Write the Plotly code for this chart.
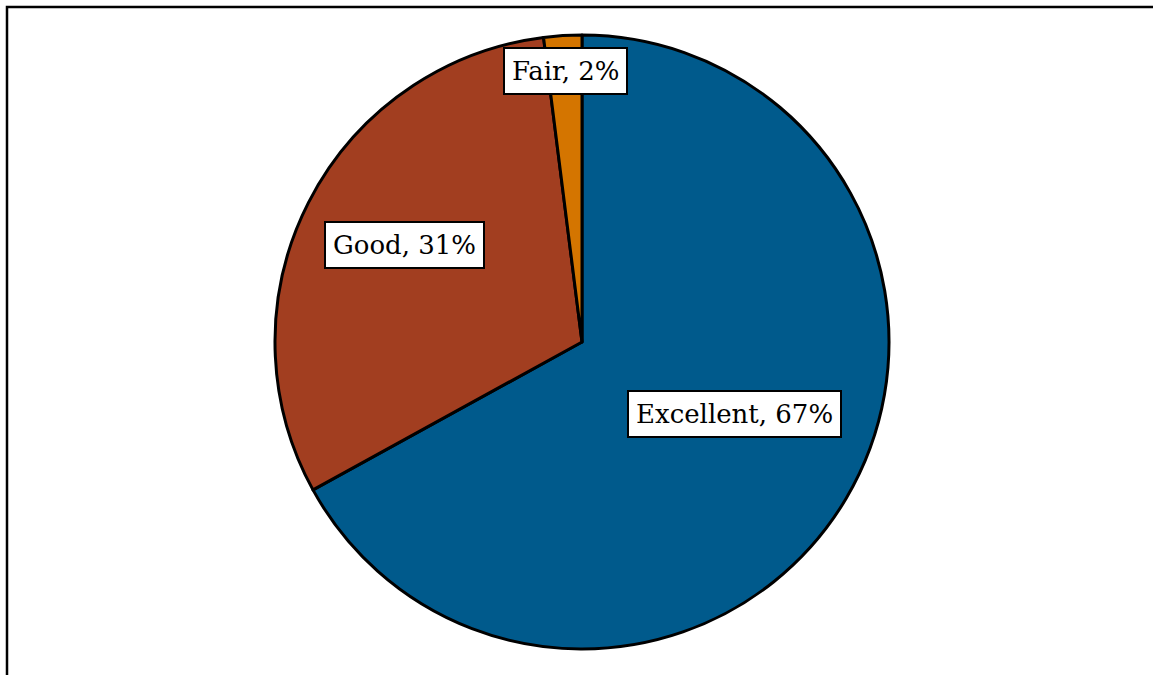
import plotly.graph_objects as go

# Service rating shares
categories = ["Excellent", "Good", "Fair"]
shares = [67, 31, 2]
colors = ["#005A8C", "#A23E20", "#D47500"]

W, H = 1153, 675
cx, cy, r = 582, 342, 307

fig = go.Figure(
    go.Pie(
        labels=categories,
        values=shares,
        sort=False,
        direction="clockwise",
        rotation=0,
        textinfo="none",
        hoverinfo="label+percent",
        marker=dict(colors=colors, line=dict(color="black", width=3)),
        domain=dict(x=[(cx - r) / W, (cx + r) / W], y=[1 - (cy + r) / H, 1 - (cy - r) / H]),
        showlegend=False,
    )
)

# Boxed data labels
label_pos = {"Excellent": (734, 414), "Good": (404, 245), "Fair": (565, 71)}
for cat, val in zip(categories, shares):
    x, y = label_pos[cat]
    fig.add_annotation(
        x=x / W, y=1 - y / H, xref="paper", yref="paper",
        text=f"{cat}, {val}%", showarrow=False,
        font=dict(family="DejaVu Serif", size=26, color="black"),
        bgcolor="white", bordercolor="black", borderwidth=2, borderpad=7,
        xanchor="center", yanchor="middle",
    )

# Outer frame
fig.add_shape(type="rect", xref="paper", yref="paper",
              x0=7 / W, x1=1.05, y0=-0.05, y1=1 - 7 / H,
              line=dict(color="black", width=2.5), fillcolor="rgba(0,0,0,0)")

fig.update_layout(
    width=W, height=H,
    margin=dict(l=0, r=0, t=0, b=0),
    paper_bgcolor="white", plot_bgcolor="white",
)

fig.write_html("out.html")
